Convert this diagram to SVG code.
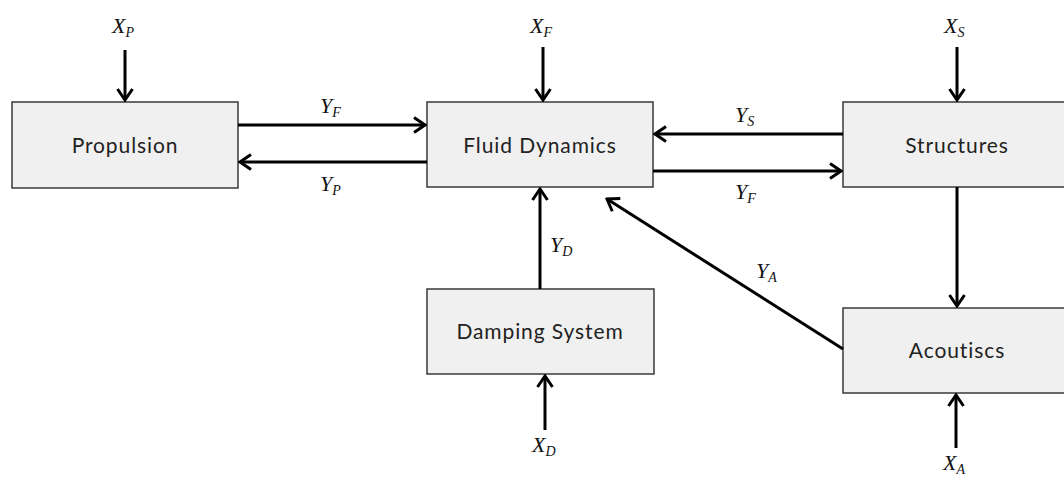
<svg xmlns="http://www.w3.org/2000/svg" width="1064" height="482" viewBox="0 0 1064 482">
<style>
.box{fill:#f0f0f0;stroke:#3a3a3a;stroke-width:1.5}
.lbl{font-family:Lato,"Open Sans",sans-serif;font-size:21px;letter-spacing:0.9px;fill:#222;text-anchor:middle}
.m{font-family:"Liberation Serif",serif;font-style:italic;font-size:22px;fill:#111}
.s{font-size:14px}
.c{stroke:#000;stroke-width:3;fill:none;marker-end:url(#ah)}
</style>
<defs>
<marker id="ah" markerUnits="userSpaceOnUse" viewBox="-14 -10 16 20" refX="0" refY="0" markerWidth="16" markerHeight="20" orient="auto">
<path d="M-11,-7.5 L0,0 L-11,7.5" fill="none" stroke="#000" stroke-width="3"/>
</marker>
</defs>
<rect width="1064" height="482" fill="#fff"/>
<g id="propulsion"><rect class="box" x="12" y="102" width="226" height="86"/><text class="lbl" x="125" y="153">Propulsion</text></g>
<g id="fluid"><rect class="box" x="427" y="102" width="226" height="85"/><text class="lbl" x="540" y="153">Fluid Dynamics</text></g>
<g id="structures"><rect class="box" x="843" y="102" width="228" height="85"/><text class="lbl" x="957" y="153">Structures</text></g>
<g id="damping"><rect class="box" x="427" y="289" width="227" height="85"/><text class="lbl" x="540" y="339">Damping System</text></g>
<g id="acoustics"><rect class="box" x="843" y="308" width="228" height="85"/><text class="lbl" x="957" y="358">Acoutiscs</text></g>
<g id="connectors">
<line class="c" x1="125" y1="50" x2="125" y2="100"/>
<line class="c" x1="543" y1="47" x2="543" y2="100"/>
<line class="c" x1="957" y1="47" x2="957" y2="100"/>
<line class="c" x1="238" y1="125" x2="425" y2="125"/>
<line class="c" x1="427" y1="162" x2="240" y2="162"/>
<line class="c" x1="843" y1="134" x2="655" y2="134"/>
<line class="c" x1="653" y1="171" x2="841" y2="171"/>
<line class="c" x1="957" y1="187" x2="957" y2="306"/>
<line class="c" x1="540" y1="289" x2="540" y2="189"/>
<line class="c" x1="843" y1="349" x2="607" y2="199"/>
<line class="c" x1="545" y1="430" x2="545" y2="376"/>
<line class="c" x1="956" y1="448" x2="956" y2="395"/>
</g>
<g id="labels">
<text class="m" x="112" y="33">X<tspan class="s" dy="4">P</tspan></text>
<text class="m" x="530" y="33">X<tspan class="s" dy="4">F</tspan></text>
<text class="m" x="944" y="33">X<tspan class="s" dy="4">S</tspan></text>
<text class="m" x="320" y="113">Y<tspan class="s" dy="4">F</tspan></text>
<text class="m" x="320" y="191">Y<tspan class="s" dy="4">P</tspan></text>
<text class="m" x="735" y="122">Y<tspan class="s" dy="4">S</tspan></text>
<text class="m" x="735" y="199">Y<tspan class="s" dy="4">F</tspan></text>
<text class="m" x="550" y="252">Y<tspan class="s" dy="4">D</tspan></text>
<text class="m" x="756" y="278">Y<tspan class="s" dy="4">A</tspan></text>
<text class="m" x="532" y="452">X<tspan class="s" dy="4">D</tspan></text>
<text class="m" x="943" y="470">X<tspan class="s" dy="4">A</tspan></text>
</g>
</svg>
